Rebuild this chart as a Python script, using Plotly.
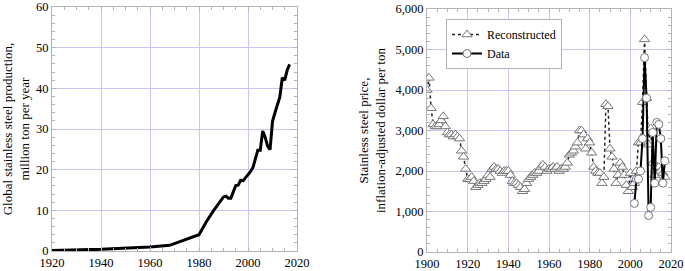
import plotly.graph_objects as go

prod_years = [1920, 1940, 1960, 1968, 1980, 1983, 1986, 1989, 1990, 1991, 1992, 1993, 1994, 1995,
              1996, 1997, 1998, 1999, 2000, 2001, 2002, 2003, 2004, 2005, 2006, 2007, 2008, 2009,
              2010, 2011, 2012, 2013, 2014, 2015, 2016, 2017]
prod_values = [0.1, 0.4, 1.0, 1.4, 4.0, 7.2, 10.0, 12.7, 13.3, 13.5, 13.0, 13.0, 14.5, 16.1,
               16.2, 17.4, 17.3, 18.0, 18.9, 19.5, 20.5, 23.0, 24.8, 24.8, 29.5, 28.0, 25.8, 24.9,
               31.9, 34.0, 35.7, 37.9, 42.6, 42.0, 44.5, 45.9]

recon_years = list(range(1900, 2018))
recon_values = [4000, 4300, 3550, 3150, 3100, 3100, 3150, 3250, 3350, 3100,
                2950, 2900, 2900, 2850, 2900, 2850, 2800, 2500, 2350, 2050,
                1800, 1800, 1850, 1750, 1600, 1650, 1700, 1700, 1750, 1800,
                1900, 1850, 2050, 2100, 2050, 2050, 2000, 1950, 2000, 2000,
                2000, 1900, 1750, 1700, 1700, 1650, 1600, 1500, 1550, 1700,
                1800, 1850, 1900, 1950, 1950, 2000, 2100, 2150, 2100, 2000,
                2050, 2050, 2100, 2050, 2100, 2000, 2050, 2050, 2100, 2200,
                2400, 2450, 2500, 2600, 2700, 3000, 3000, 2900, 2550, 2800,
                2700, 2450, 2100, 2000, 1950, 1950, 1700, 1850, 3650, 3600,
                2550, 2350, 2050, 1700, 1900, 2200, 2100, 1900, 1650, 1500,
                1950, 1600, 1700, 2000, 2700, 2700, 3700, 5250, 3800, 2650,
                3050, 2200, 1900, 2100, 2100, 2000, 1950, 1850]

data_years = list(range(2002, 2018))
data_values = [1200, 1800, 1800, 2000, 2800, 4800, 3800, 900, 1100, 2950, 1700,
               3200, 3150, 2800, 1700, 2250]

font = "Liberation Serif"
grid = "#c8c8f4"
frame = "#b4b4b4"

fig = go.Figure()
fig.add_trace(go.Scatter(x=prod_years, y=prod_values, mode="lines",
                         line=dict(color="black", width=3), showlegend=False,
                         xaxis="x", yaxis="y"))
fig.add_trace(go.Scatter(x=recon_years, y=recon_values, mode="lines+markers",
                         name="Reconstructed",
                         line=dict(color="#222222", width=1.5, dash="dot"),
                         marker=dict(symbol="triangle-up", size=9, color="white",
                                     line=dict(color="#777777", width=1)),
                         xaxis="x2", yaxis="y2"))
fig.add_trace(go.Scatter(x=data_years, y=data_values, mode="lines+markers",
                         name="Data",
                         line=dict(color="black", width=2),
                         marker=dict(symbol="circle", size=8, color="white",
                                     line=dict(color="#777777", width=1)),
                         xaxis="x2", yaxis="y2"))

axcommon = dict(showline=True, linecolor=frame, linewidth=1, mirror="ticks",
                ticks="inside", ticklen=4, tickcolor=frame, showgrid=True,
                gridcolor=grid, gridwidth=1, zeroline=False,
                ticklabeloverflow="allow",
                tickfont=dict(family=font, size=12.5, color="black"))

fig.update_layout(
    width=685, height=271,
    margin=dict(l=0, r=0, t=0, b=0),
    paper_bgcolor="white", plot_bgcolor="white",
    font=dict(family=font, color="black"),
    xaxis=dict(domain=[52/685, 297/685], range=[1920, 2020], dtick=20,
               minor=dict(dtick=5, ticks="inside", ticklen=3, tickcolor=frame, showgrid=False),
               anchor="y", automargin=False, **axcommon),
    yaxis=dict(domain=[20/271, 264/271], range=[0, 60], dtick=10,
               minor=dict(dtick=2, ticks="inside", ticklen=3, tickcolor=frame, showgrid=False),
               anchor="x", automargin=False,
               title=dict(text="Global stainless steel production,<br>million ton per year",
                          font=dict(family=font, size=13), standoff=6),
               **axcommon),
    xaxis2=dict(domain=[427/685, 671/685], range=[1900, 2020], dtick=20,
                minor=dict(dtick=5, ticks="inside", ticklen=3, tickcolor=frame, showgrid=False),
                anchor="y2", automargin=False, **axcommon),
    yaxis2=dict(domain=[19/271, 262/271], range=[0, 6000], dtick=1000, tickformat=",d",
                minor=dict(dtick=200, ticks="inside", ticklen=3, tickcolor=frame, showgrid=False),
                anchor="x2", automargin=False,
                title=dict(text="Stainless steel price,<br>inflation-adjusted dollar per ton",
                           font=dict(family=font, size=13), standoff=6),
                **axcommon),
    legend=dict(x=446/685, y=(271-19)/271, xanchor="left", yanchor="top",
                bgcolor="white", bordercolor=frame, borderwidth=1,
                font=dict(family=font, size=12), itemwidth=30,
                tracegroupgap=0),
)

fig.write_html("out.html", config={"displayModeBar": False},
               post_script="document.body.style.margin='0';document.body.style.overflow='hidden';")
